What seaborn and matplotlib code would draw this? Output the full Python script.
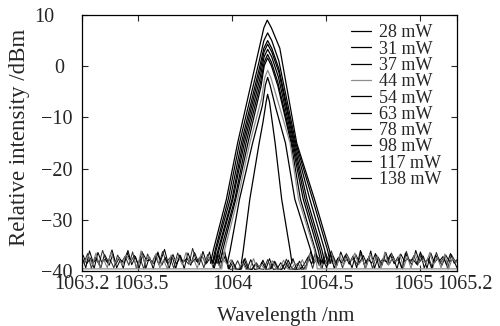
import numpy as np
import pandas as pd
import matplotlib
matplotlib.use('Agg')
import matplotlib.pyplot as plt
import matplotlib.transforms as mtransforms
import seaborn as sns

### spectra (key points of each peak) ###
powers = ['28 mW', '31 mW', '37 mW', '44 mW', '54 mW', '63 mW', '78 mW', '98 mW', '117 mW', '138 mW']
colors = ['black', 'black', 'black', '#8c8c8c', 'black', 'black', 'black', 'black', 'black', 'black']
peak_db = [-5.5, -2.2, 1.6, -0.8, 2.3, 3.3, 4.3, 5.0, 6.5, 9.0]

wl_28 = [1064.05, 1064.06, 1064.095, 1064.145, 1064.165, 1064.182, 1064.19, 1064.20, 1064.215, 1064.23, 1064.265, 1064.31, 1064.32]
wl_31 = [1063.975, 1063.99, 1064.04, 1064.11, 1064.162, 1064.178, 1064.19, 1064.203, 1064.23, 1064.285, 1064.335, 1064.42, 1064.435]
wl_37 = [1063.935, 1063.95, 1064.02, 1064.085, 1064.155, 1064.172, 1064.19, 1064.21, 1064.245, 1064.315, 1064.365, 1064.445, 1064.46]
wl_44 = [1063.945, 1063.96, 1064.03, 1064.095, 1064.158, 1064.174, 1064.19, 1064.208, 1064.24, 1064.31, 1064.355, 1064.44, 1064.455]
wl_54 = [1063.925, 1063.94, 1064.015, 1064.075, 1064.152, 1064.172, 1064.19, 1064.21, 1064.245, 1064.32, 1064.38, 1064.46, 1064.475]
wl_63 = [1063.915, 1063.93, 1064.005, 1064.066, 1064.15, 1064.171, 1064.19, 1064.212, 1064.248, 1064.325, 1064.39, 1064.47, 1064.485]
wl_78 = [1063.91, 1063.925, 1064.00, 1064.058, 1064.148, 1064.171, 1064.19, 1064.212, 1064.25, 1064.33, 1064.40, 1064.48, 1064.495]
wl_98 = [1063.90, 1063.915, 1063.99, 1064.05, 1064.145, 1064.17, 1064.19, 1064.212, 1064.25, 1064.335, 1064.415, 1064.495, 1064.51]
wl_117 = [1063.895, 1063.91, 1063.98, 1064.04, 1064.145, 1064.17, 1064.19, 1064.212, 1064.25, 1064.34, 1064.43, 1064.51, 1064.525]
wl_138 = [1063.885, 1063.90, 1063.97, 1064.03, 1064.145, 1064.17, 1064.188, 1064.21, 1064.255, 1064.345, 1064.44, 1064.52, 1064.535]

# dB levels of those key points (feet, flanks, shoulders of the top, peak)
foot_db = [-38.5, -36.0, -26.0, -15.0]
top_drop = [5.5, 1.5]
floor_44 = -39.6  # grey trace sits flat on the bottom

# noise floor (four overlapping traces)
noise_a = [-37.2, -39.4, -36.1, -38.4, -37.6, -39.4, -36.8, -38.2, -35.9, -38.7,
           -37.4, -39.5, -36.5, -38.1, -37.0, -38.8, -36.2, -39.5, -37.3, -39.6,
           -36.6, -38.0, -35.8, -38.6, -37.1, -39.5, -36.9, -38.3, -37.5, -38.9,
           -36.4, -38.2, -37.0, -38.7, -36.3, -39.4, -37.2, -39.4, -36.0,
           -39.6, -37.9, -39.7, -39.6, -38.2, -39.7, -37.8, -39.7, -39.6, -38.3, -39.7,
           -37.6, -39.7, -39.6, -38.4, -39.7, -37.9, -39.6, -39.7, -38.1, -39.6,
           -38.8, -36.2, -38.3, -37.4, -39.5, -36.6, -38.5, -37.1, -38.9, -36.3,
           -38.2, -37.5, -39.4, -36.8, -38.4, -37.0, -38.7, -36.1, -39.5, -37.3,
           -38.9, -36.4, -38.6, -37.2, -39.6, -36.7, -38.1, -37.6, -38.8, -36.0,
           -38.3, -37.1, -39.5, -36.5, -38.4, -37.4, -38.9, -36.9, -38.2, -37.7, -39.4]
noise_b = [-38.5, -36.6, -39.5, -37.3, -38.7, -36.0, -38.2, -37.8, -39.4, -36.9,
           -38.4, -37.1, -38.9, -36.3, -39.5, -37.6, -39.6, -36.7, -38.6, -37.0,
           -38.8, -36.2, -38.3, -37.4, -39.5, -36.5, -38.1, -37.9, -38.7, -35.6,
           -38.2, -37.3, -39.4, -36.8, -38.5, -37.0, -38.9, -36.4, -38.3,
           -39.7, -39.6, -38.0, -39.7, -37.5, -39.6, -39.7, -38.4, -39.6, -39.7, -37.8,
           -39.6, -38.2, -39.7, -39.6, -37.7, -39.7, -39.6, -38.5, -39.7, -39.6,
           -37.0, -39.5, -36.8, -38.2, -37.5, -38.9, -36.1, -38.4, -37.3, -39.4,
           -36.6, -38.0, -37.7, -38.8, -36.3, -39.5, -37.2, -39.5, -36.9, -38.3,
           -37.4, -38.7, -36.5, -38.1, -37.8, -39.6, -36.2, -38.5, -37.0, -38.9,
           -36.7, -38.2, -37.6, -39.4, -36.4, -38.5, -37.3, -39.5, -36.8, -38.1, -37.5]
noise_c = [-36.9, -38.6, -37.5, -39.5, -36.4, -38.3, -37.7, -38.9, -36.7, -39.4,
           -37.8, -38.5, -36.0, -38.8, -37.2, -39.4, -36.6, -38.0, -37.9, -38.6,
           -36.3, -38.9, -37.4, -39.5, -36.8, -38.7, -37.0, -39.6, -36.5, -38.4,
           -37.6, -38.8, -36.2, -38.5, -37.3, -39.5, -36.9, -38.3, -37.1,
           -39.6, -38.3, -39.7, -39.7, -37.7, -39.6, -39.7, -38.6, -39.6, -37.9, -39.7,
           -39.6, -38.1, -39.7, -39.7, -38.3, -39.6, -37.6, -39.7, -39.6, -38.7,
           -37.3, -38.6, -36.5, -38.9, -37.8, -39.4, -36.4, -39.5, -37.5, -38.4,
           -36.9, -38.7, -37.1, -39.4, -36.0, -38.8, -37.6, -38.5, -36.6, -39.4,
           -37.9, -38.2, -36.8, -38.6, -37.3, -39.5, -36.5, -38.0, -37.7, -38.7,
           -36.3, -39.4, -37.5, -39.5, -36.9, -38.1, -37.2, -38.8, -36.6, -38.5, -37.8]
noise_d = [-38.2, -37.0, -38.8, -36.5, -39.4, -37.7, -39.4, -36.3, -38.6, -37.4,
           -38.9, -36.8, -38.1, -37.5, -39.5, -36.1, -38.5, -37.2, -38.7, -36.6,
           -39.4, -37.8, -39.6, -36.9, -38.0, -37.3, -38.8, -36.4, -38.6, -37.6,
           -39.5, -36.7, -38.2, -37.1, -38.9, -36.5, -39.4, -37.9, -38.7,
           -37.8, -39.7, -39.6, -38.4, -39.7, -39.6, -37.6, -39.7, -38.8, -39.6, -39.7,
           -38.0, -39.6, -39.7, -37.9, -39.6, -39.7, -38.5, -39.6, -37.8, -39.7,
           -36.8, -38.3, -37.6, -39.5, -36.2, -38.7, -37.3, -39.4, -36.9, -38.9,
           -37.4, -38.1, -36.5, -38.8, -37.8, -39.4, -36.7, -38.4, -37.1, -39.5,
           -36.3, -38.9, -37.5, -38.2, -36.8, -39.4, -37.2, -39.5, -36.6, -38.3,
           -37.9, -38.5, -36.4, -38.8, -37.3, -39.4, -36.7, -39.6, -37.6, -38.4, -36.9]

xticks = [1063.2, 1063.5, 1064, 1064.5, 1065, 1065.2]
xticklabels = ['1063.2', '1063.5', '1064', '1064.5', '1065', '1065.2']
yticks = [-40, -30, -20, -10, 0, 10]

wl_all = [wl_28, wl_31, wl_37, wl_44, wl_54, wl_63, wl_78, wl_98, wl_117, wl_138]

rows = []
for p, w, pk in zip(powers, wl_all, peak_db):
    levels = foot_db + [pk - top_drop[0], pk - top_drop[1], pk,
                        pk - top_drop[1], pk - top_drop[0]] + foot_db[::-1]
    w = list(w)
    if p == '44 mW':
        w = [1063.2] + w + [1065.2]
        levels = [floor_44, floor_44] + levels[1:-1] + [floor_44, floor_44]
    for i in range(len(w)):
        rows.append({'power': p, 'wl': w[i], 'db': levels[i]})
df = pd.DataFrame(rows)

grid = np.linspace(1063.2, 1065.2, len(noise_a))
noise_traces = [(noise_a, 0.0, 'black'), (noise_b, 0.01, '#303030'),
                (noise_c, 0.005, 'black'), (noise_d, 0.015, '#7a7a7a')]

sns.set_style('ticks')
plt.rcParams['font.family'] = ['Liberation Serif', 'DejaVu Serif']

fig, ax = plt.subplots(figsize=(5, 3.26), dpi=100)
fig.subplots_adjust(left=0.164, right=0.914, top=0.954, bottom=0.169)

for vals, shift, col in noise_traces:
    dn = pd.DataFrame({'wl': grid + shift, 'db': vals})
    sns.lineplot(data=dn, x='wl', y='db', color=col, lw=0.75, sort=False, estimator=None, ax=ax)

sns.lineplot(data=df, x='wl', y='db', hue='power', hue_order=powers,
             palette=dict(zip(powers, colors)), units='power', sort=False,
             estimator=None, lw=0.9, ax=ax, legend=True)

ax.set_xlim(1063.2, 1065.2)
ax.set_ylim(-40, 10)
ax.set_xticks(xticks)
ax.set_xticklabels(xticklabels)
ax.set_yticks(yticks)
ax.tick_params(direction='in', top=True, right=True, length=4, width=0.8, labelsize=14.5)
ax.tick_params(axis='y', pad=7)
ax.tick_params(axis='x', pad=3)
for s in ax.spines.values():
    s.set_linewidth(0.9)
    s.set_color('black')

# small label nudges as in the original figure
x_nudge = [0, 3, 0, 0, -6, 8]
y_nudge = [0, 0, 0, 0, -8, -18]
for lab, dx in zip(ax.get_xticklabels(), x_nudge):
    lab.set_transform(lab.get_transform() + mtransforms.ScaledTranslation(dx / 100, 0, fig.dpi_scale_trans))
for lab, dx in zip(ax.get_yticklabels(), y_nudge):
    lab.set_transform(lab.get_transform() + mtransforms.ScaledTranslation(dx / 100, 0, fig.dpi_scale_trans))

ax.set_xlabel('Wavelength /nm', fontsize=15)
ax.xaxis.set_label_coords(0.544, -0.14)
ax.set_ylabel('Relative intensity /dBm', fontsize=16.5)
ax.yaxis.set_label_coords(-0.138, 0.52)

handles, labels = ax.get_legend_handles_labels()
ax.legend(handles, labels, loc='upper left', bbox_to_anchor=(0.702, 0.925),
          bbox_transform=fig.transFigure, frameon=False, fontsize=13,
          labelspacing=-0.04, handlelength=1.1, handletextpad=0.45,
          borderpad=0, borderaxespad=0)

fig.savefig('out.png', dpi=100)
